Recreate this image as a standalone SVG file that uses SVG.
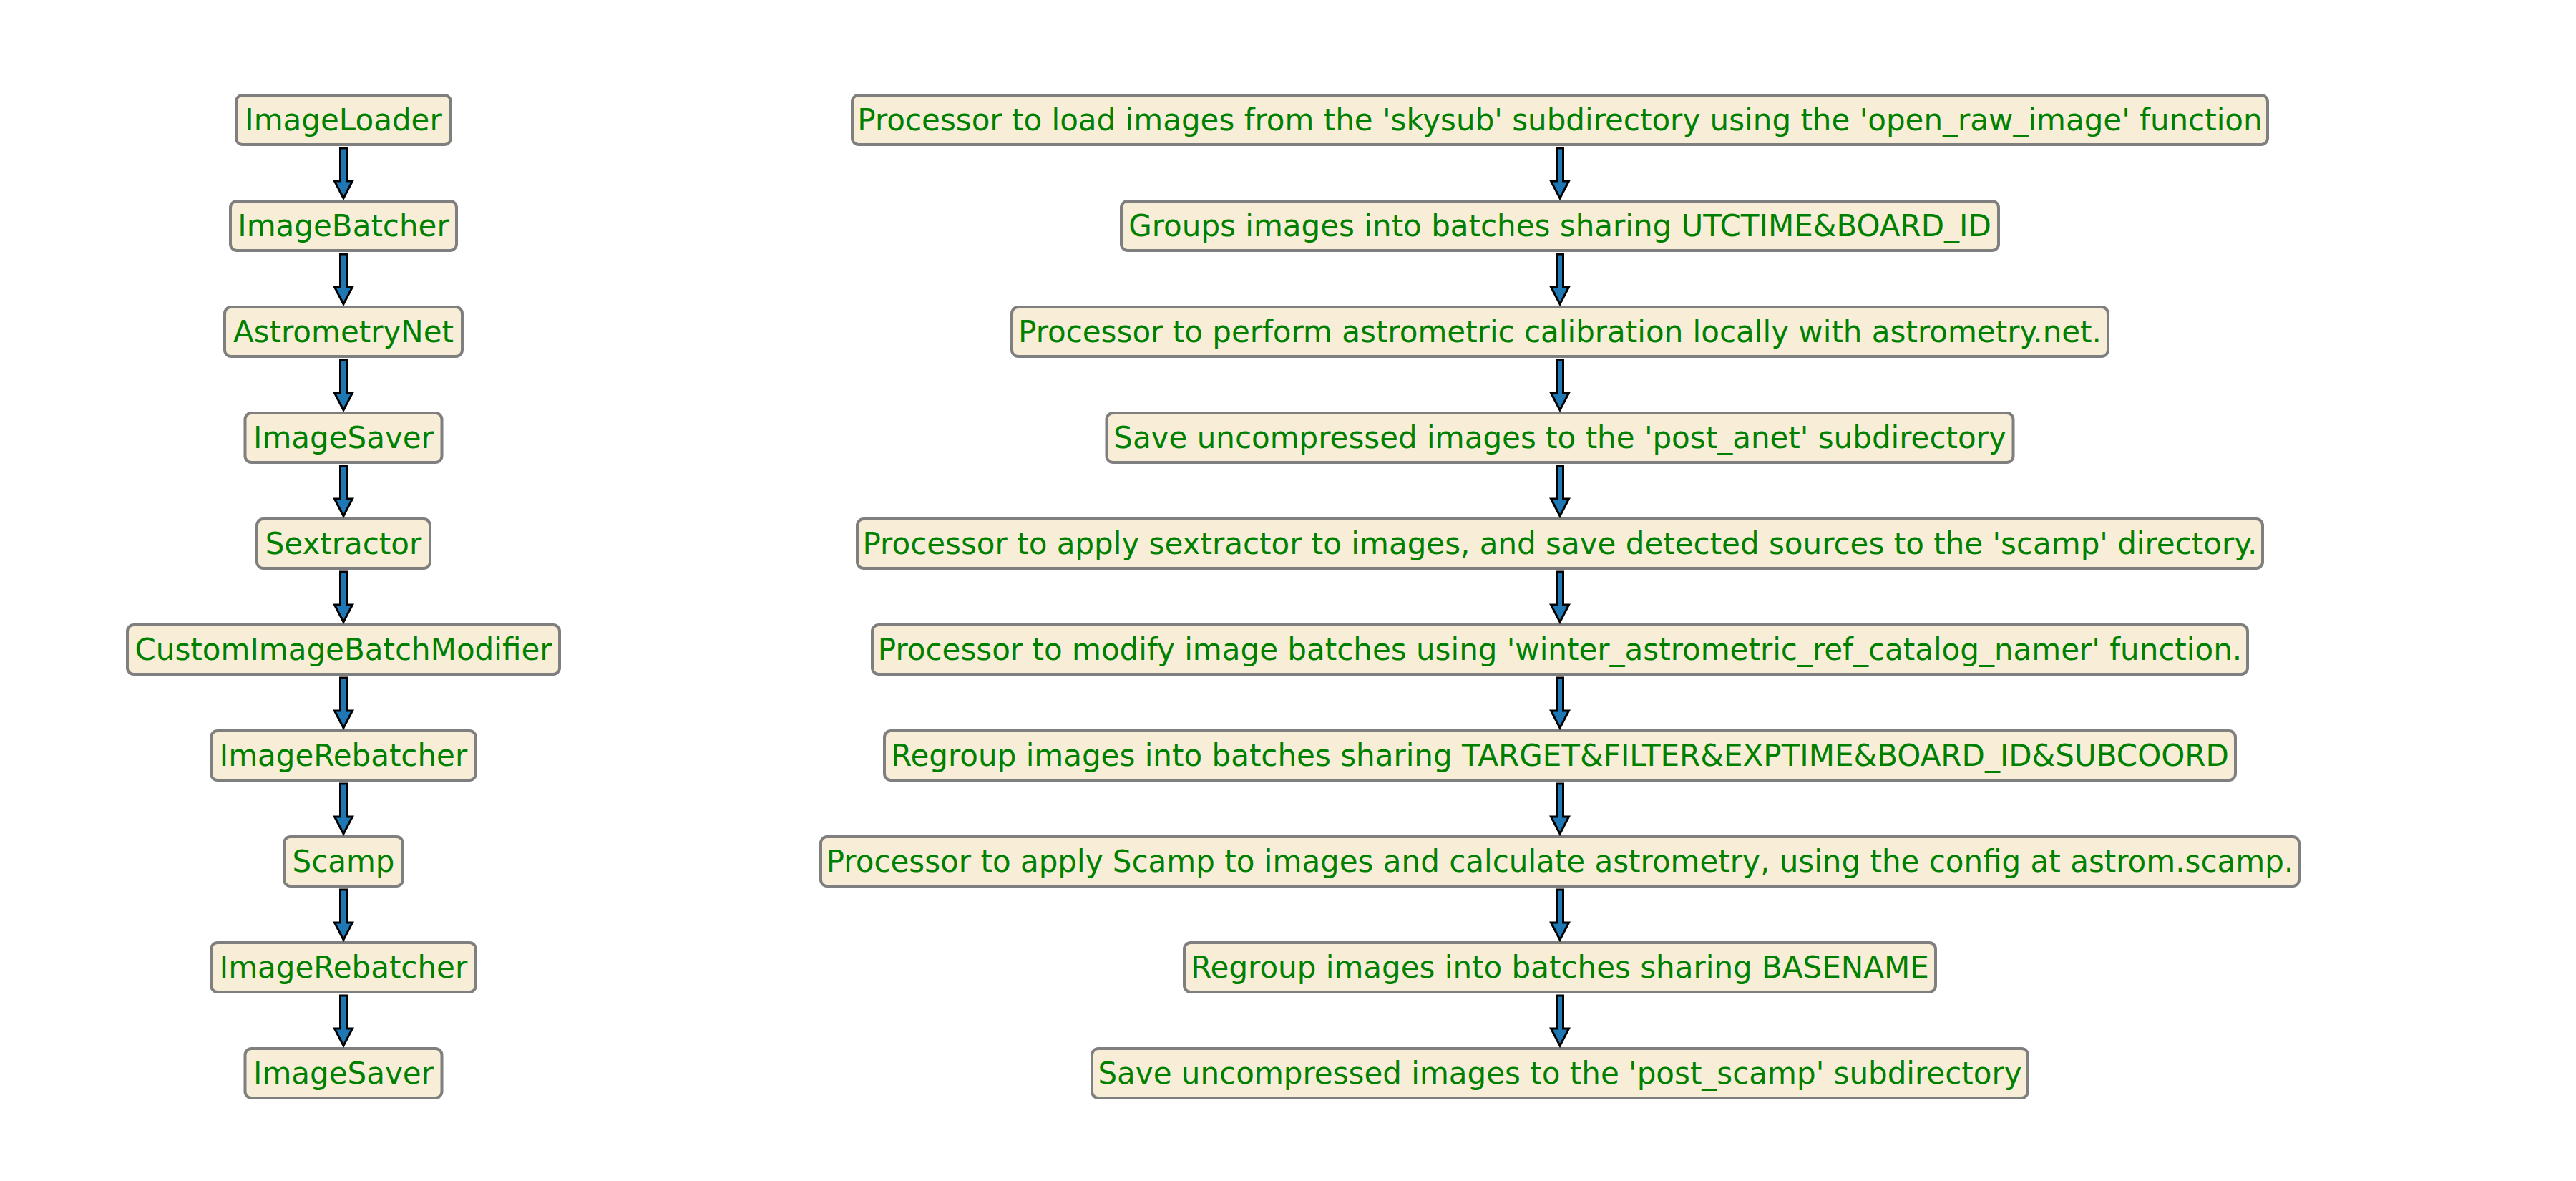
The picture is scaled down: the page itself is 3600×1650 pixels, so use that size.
<svg xmlns="http://www.w3.org/2000/svg" xmlns:xlink="http://www.w3.org/1999/xlink" width="3600" height="1650" viewBox="0 0 3600 1650">
<style>
.b{fill:#f8eed8;stroke:#7f7f7f;stroke-width:4}
.t{font-family:"DejaVu Sans",sans-serif;font-size:42px;fill:#008000;text-anchor:middle;dominant-baseline:central}
.a{fill:#1f77b4;stroke:#000;stroke-width:3;stroke-linejoin:miter}
</style>
<defs><path id="ar" class="a" d="M-4.5,0 H4.5 V46 H12.5 L0,70 L-12.5,46 H-4.5 Z"/></defs>
<rect width="3600" height="1650" fill="#fff"/>
<g id="L0"><rect class="b" x="330" y="133" width="300" height="69" rx="9"/><text class="t" x="480" y="167.5">ImageLoader</text></g>
<g id="L1"><rect class="b" x="322" y="281" width="316" height="69" rx="9"/><text class="t" x="480" y="315.5">ImageBatcher</text></g>
<g id="L2"><rect class="b" x="314" y="429" width="332" height="69" rx="9"/><text class="t" x="480" y="463.5">AstrometryNet</text></g>
<g id="L3"><rect class="b" x="342.5" y="577" width="275" height="69" rx="9"/><text class="t" x="480" y="611.5">ImageSaver</text></g>
<g id="L4"><rect class="b" x="359" y="725" width="242" height="69" rx="9"/><text class="t" x="480" y="759.5">Sextractor</text></g>
<g id="L5"><rect class="b" x="178" y="873" width="604" height="69" rx="9"/><text class="t" x="480" y="907.5">CustomImageBatchModifier</text></g>
<g id="L6"><rect class="b" x="295" y="1021" width="370" height="69" rx="9"/><text class="t" x="480" y="1055.5">ImageRebatcher</text></g>
<g id="L7"><rect class="b" x="397" y="1169" width="166" height="69" rx="9"/><text class="t" x="480" y="1203.5">Scamp</text></g>
<g id="L8"><rect class="b" x="295" y="1317" width="370" height="69" rx="9"/><text class="t" x="480" y="1351.5">ImageRebatcher</text></g>
<g id="L9"><rect class="b" x="342.5" y="1465" width="275" height="69" rx="9"/><text class="t" x="480" y="1499.5">ImageSaver</text></g>
<g id="R0"><rect class="b" x="1191" y="133" width="1978" height="69" rx="9"/><text class="t" x="2180" y="167.5">Processor to load images from the 'skysub' subdirectory using the 'open_raw_image' function</text></g>
<g id="R1"><rect class="b" x="1567" y="281" width="1226" height="69" rx="9"/><text class="t" x="2180" y="315.5">Groups images into batches sharing UTCTIME&amp;BOARD_ID</text></g>
<g id="R2"><rect class="b" x="1414" y="429" width="1532" height="69" rx="9"/><text class="t" x="2180" y="463.5">Processor to perform astrometric calibration locally with astrometry.net.</text></g>
<g id="R3"><rect class="b" x="1546.5" y="577" width="1267" height="69" rx="9"/><text class="t" x="2180" y="611.5">Save uncompressed images to the 'post_anet' subdirectory</text></g>
<g id="R4"><rect class="b" x="1198" y="725" width="1964" height="69" rx="9"/><text class="t" x="2180" y="759.5">Processor to apply sextractor to images, and save detected sources to the 'scamp' directory.</text></g>
<g id="R5"><rect class="b" x="1219" y="873" width="1922" height="69" rx="9"/><text class="t" x="2180" y="907.5">Processor to modify image batches using 'winter_astrometric_ref_catalog_namer' function.</text></g>
<g id="R6"><rect class="b" x="1236" y="1021" width="1888" height="69" rx="9"/><text class="t" x="2180" y="1055.5">Regroup images into batches sharing TARGET&amp;FILTER&amp;EXPTIME&amp;BOARD_ID&amp;SUBCOORD</text></g>
<g id="R7"><rect class="b" x="1147" y="1169" width="2066" height="69" rx="9"/><text class="t" x="2180" y="1203.5">Processor to apply Scamp to images and calculate astrometry, using the config at astrom.scamp.</text></g>
<g id="R8"><rect class="b" x="1655" y="1317" width="1050" height="69" rx="9"/><text class="t" x="2180" y="1351.5">Regroup images into batches sharing BASENAME</text></g>
<g id="R9"><rect class="b" x="1526" y="1465" width="1308" height="69" rx="9"/><text class="t" x="2180" y="1499.5">Save uncompressed images to the 'post_scamp' subdirectory</text></g>
<g id="connectors">
<use href="#ar" x="480" y="207"/><use href="#ar" x="480" y="355"/><use href="#ar" x="480" y="503"/><use href="#ar" x="480" y="651"/><use href="#ar" x="480" y="799"/><use href="#ar" x="480" y="947"/><use href="#ar" x="480" y="1095"/><use href="#ar" x="480" y="1243"/><use href="#ar" x="480" y="1391"/>
<use href="#ar" x="2180" y="207"/><use href="#ar" x="2180" y="355"/><use href="#ar" x="2180" y="503"/><use href="#ar" x="2180" y="651"/><use href="#ar" x="2180" y="799"/><use href="#ar" x="2180" y="947"/><use href="#ar" x="2180" y="1095"/><use href="#ar" x="2180" y="1243"/><use href="#ar" x="2180" y="1391"/>
</g>
</svg>
